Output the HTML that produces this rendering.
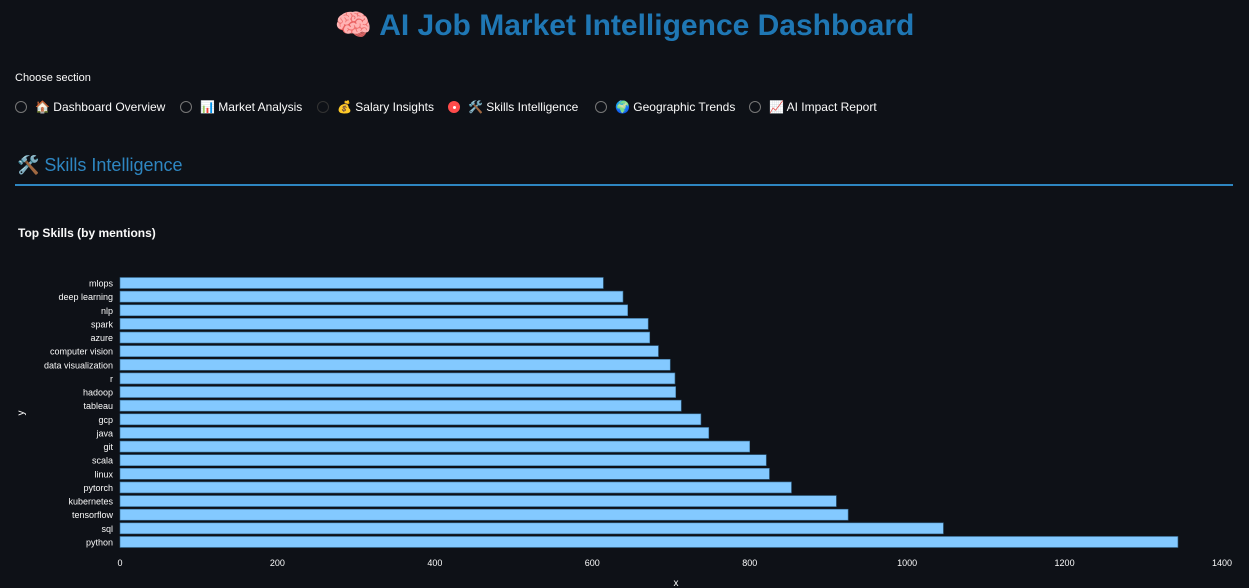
<!DOCTYPE html>
<html><head><meta charset="utf-8">
<style>
body{margin:0;width:1249px;height:588px;background:#0e1117;overflow:hidden;font-family:"Liberation Sans","Noto Sans CJK SC",sans-serif;color:#fafafa;position:relative}
.abs{position:absolute}
h1{position:absolute;left:0;width:1249px;top:8px;margin:0;text-align:center;font-size:30px;font-weight:bold;color:#1f77b4}
.radio{position:absolute;top:100px;font-size:12px;display:flex;align-items:center;white-space:nowrap}
.dot{width:12px;height:12px;border:1px solid #777;border-radius:50%;margin-right:8px;box-sizing:border-box}
.dot.on{background:#ff4b4b;border-color:#ff4b4b;position:relative}
.dot.on::after{content:"";position:absolute;left:3.5px;top:3.5px;width:3px;height:3px;background:#fff;border-radius:50%}
</style></head><body>
<h1>🧠 AI Job Market Intelligence Dashboard</h1>
<div class="abs" style="left:15px;top:72px;font-size:11px">Choose section</div>
<div class="radio" style="left:15px"><span class="dot"></span>🏠 Dashboard Overview</div>
<div class="radio" style="left:180px"><span class="dot"></span>📊 Market Analysis</div>
<div class="radio" style="left:317px"><span class="dot" style="border-color:#333"></span>💰 Salary Insights</div>
<div class="radio" style="left:448px"><span class="dot on"></span>🛠️ Skills Intelligence</div>
<div class="radio" style="left:595px"><span class="dot"></span>🌍 Geographic Trends</div>
<div class="radio" style="left:749px"><span class="dot"></span>📈 AI Impact Report</div>
<div class="abs" style="left:17px;top:155px;font-size:18px;color:#2e86c1">🛠️ Skills Intelligence</div>
<div class="abs" style="left:15px;top:184px;width:1218px;height:2px;background:#2e86c1"></div>
<div class="abs" style="left:18px;top:226px;font-size:12px;font-weight:bold">Top Skills (by mentions)</div>
<svg class="abs" style="left:0;top:0" width="1249" height="588" id="chart"></svg>
<script>
const skills=["mlops","deep learning","nlp","spark","azure","computer vision","data visualization","r","hadoop","tableau","gcp","java","git","scala","linux","pytorch","kubernetes","tensorflow","sql","python"];
const mentions=[614,639,645,671,673,684,699,705,706,713,738,748,800,821,825,853,910,925,1046,1344];
const xTicks=[0,200,400,600,800,1000,1200,1400];
const ns="http://www.w3.org/2000/svg";
const svg=document.getElementById('chart');
const x0=120,x1=1222,xMax=1400;
const xs=v=>x0+(v/xMax)*(x1-x0);
const yTop=283,step=13.63;
const ys=i=>yTop+i*step;
function mk(t,a){const e=document.createElementNS(ns,t);for(const k in a)e.setAttribute(k,a[k]);svg.appendChild(e);return e;}
skills.forEach((s,i)=>{
 const r=mk('rect',{x:x0,y:ys(i)-5.5,width:xs(mentions[i])-x0,height:11,fill:'#83c9ff',stroke:'#3a6f96','stroke-width':0.6});
 
 
 const t=mk('text',{x:113,y:ys(i)+3.5,'text-anchor':'end','font-size':9,fill:'#fafafa','font-family':'Liberation Sans,sans-serif'});
 t.textContent=s;
 
 
});
xTicks.forEach(v=>{
 const t=mk('text',{x:xs(v),y:566,'text-anchor':'middle','font-size':9,fill:'#fafafa','font-family':'Liberation Sans,sans-serif'});
 t.textContent=v;
 
 
});
const xt=mk('text',{x:676,y:586,'text-anchor':'middle','font-size':10,fill:'#fafafa'});xt.textContent='x';


const yt=mk('text',{x:24,y:413,'text-anchor':'middle','font-size':10,fill:'#fafafa',transform:'rotate(-90 24 413)'});yt.textContent='y';


</script>
</body></html>
